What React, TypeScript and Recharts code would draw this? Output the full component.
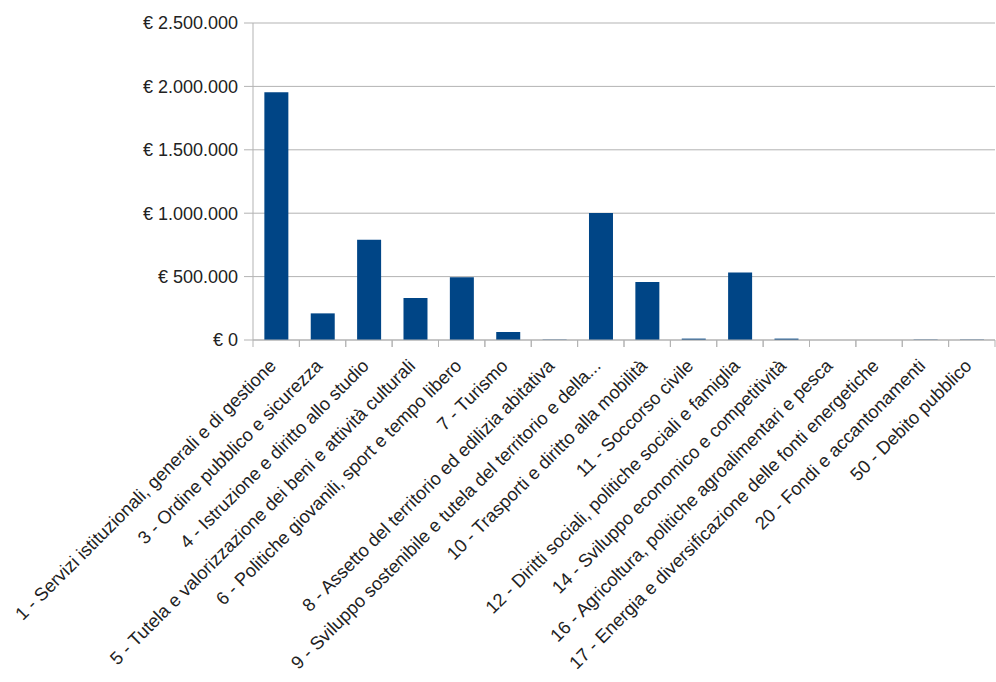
import React from 'react';
import { BarChart, Bar, XAxis, YAxis, CartesianGrid } from 'recharts';

const categories = [
  '1 - Servizi istituzionali, generali e di gestione',
  '3 - Ordine pubblico e sicurezza',
  '4 - Istruzione e diritto allo studio',
  '5 - Tutela e valorizzazione dei beni e attività culturali',
  '6 - Politiche giovanili, sport e tempo libero',
  '7 - Turismo',
  '8 - Assetto del territorio ed edilizia abitativa',
  '9 - Sviluppo sostenibile e tutela del territorio e della...',
  '10 - Trasporti e diritto alla mobilità',
  '11 - Soccorso civile',
  '12 - Diritti sociali, politiche sociali e famiglia',
  '14 - Sviluppo economico e competitività',
  '16 - Agricoltura, politiche agroalimentari e pesca',
  '17 - Energia e diversificazione delle fonti energetiche',
  '20 - Fondi e accantonamenti',
  '50 - Debito pubblico',
];

const values = [
  1953000, 210000, 791000, 331000, 494000, 63000, 3000, 1001000,
  457000, 11000, 533000, 11000, 0, 0, 3000, 3000,
];

const yTicks = [0, 500000, 1000000, 1500000, 2000000, 2500000];

const data = categories.map((name, i) => ({ name, value: values[i] }));

const FONT = '"Liberation Sans", Arial, sans-serif';
const GRID = '#b3b3b3';

const euro = (v: number) =>
  '€ ' + String(Math.round(v)).replace(/\B(?=(\d{3})+(?!\d))/g, '.');

const XTick = (props: any) => {
  const { x, y, payload, width, visibleTicksCount } = props;
  const half =
    payload && typeof payload.offset === 'number' && payload.offset > 0
      ? payload.offset
      : width / visibleTicksCount / 2;
  const ax = x + 1;
  const ay = y + 27;
  return (
    <g>
      <line x1={x - half} x2={x - half} y1={y} y2={y + 7} stroke={GRID} strokeWidth={1} />
      <line x1={x + half} x2={x + half} y1={y} y2={y + 7} stroke={GRID} strokeWidth={1} />
      <text
        x={ax}
        y={ay}
        transform={`rotate(-45, ${ax}, ${ay})`}
        textAnchor="end"
        fontFamily={FONT}
        fontSize={18.3}
        fill="#222"
      >
        {payload.value}
      </text>
    </g>
  );
};

export default function App() {
  return (
    <div style={{ position: 'absolute', left: 0, top: 0, width: 996, height: 682, background: '#fff' }}>
      <BarChart
        width={996}
        height={682}
        data={data}
        margin={{ top: 23, right: 1, bottom: 0, left: 0 }}
        barCategoryGap="24.5%"
      >
        <CartesianGrid horizontal vertical={false} stroke={GRID} strokeDasharray="" />
        <XAxis
          dataKey="name"
          interval={0}
          height={342}
          tickSize={0}
          tickMargin={0}
          tickLine={false}
          axisLine={{ stroke: GRID }}
          tick={<XTick />}
        />
        <YAxis
          width={253}
          domain={[0, 2500000]}
          ticks={yTicks}
          tickFormatter={euro}
          tickSize={9}
          tickMargin={6}
          axisLine={{ stroke: GRID }}
          tickLine={{ stroke: GRID }}
          tick={{ fontFamily: FONT, fontSize: 18, fill: '#222' }}
        />
        <YAxis
          yAxisId="right"
          orientation="right"
          width={0}
          tick={false}
          tickLine={false}
          axisLine={{ stroke: '#dddddd' }}
        />
        <Bar dataKey="value" fill="#004586" isAnimationActive={false} />
      </BarChart>
    </div>
  );
}
